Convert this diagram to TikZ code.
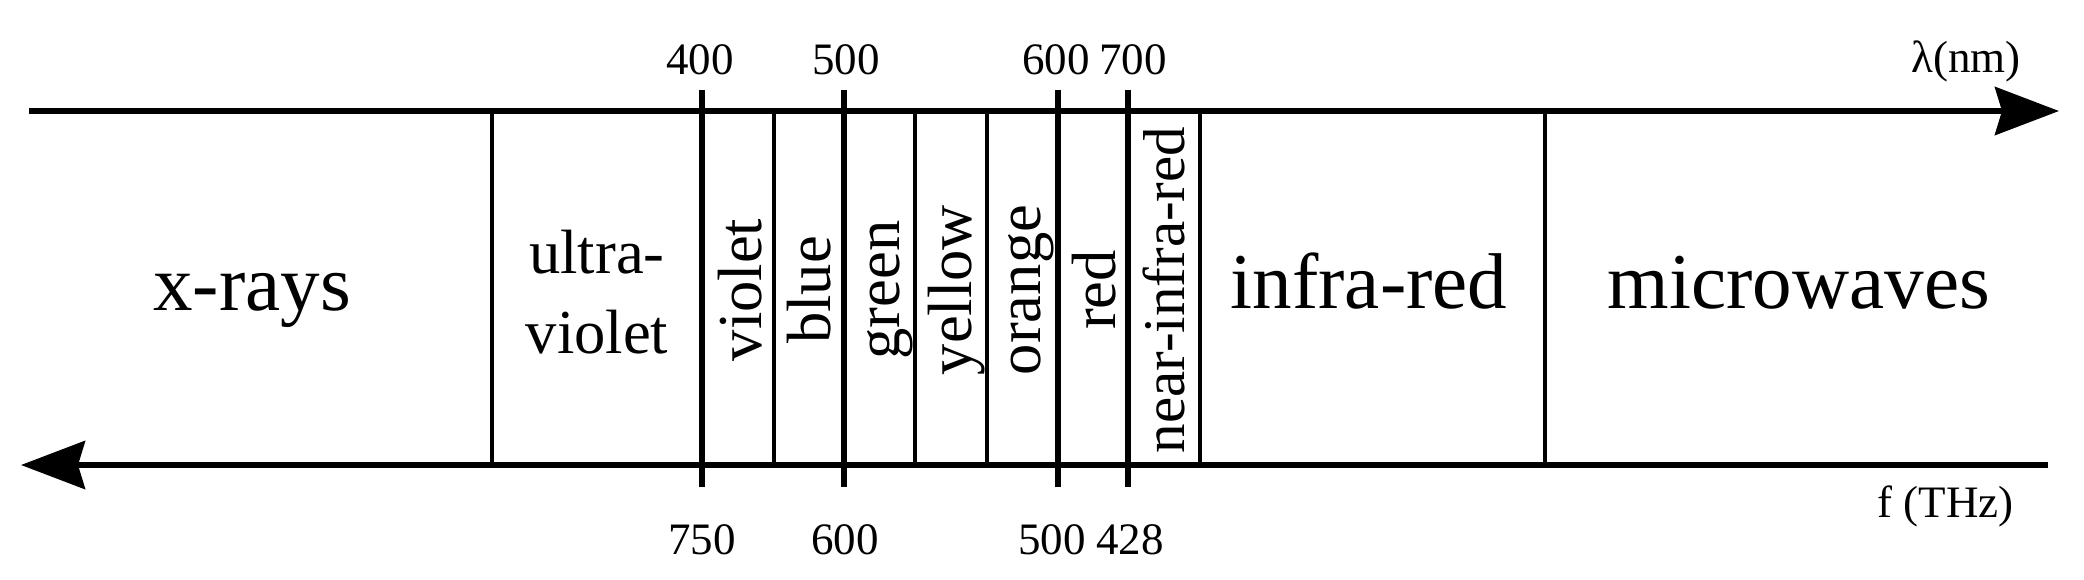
\documentclass[tikz,border=0pt]{standalone}
\usepackage{fontspec}
\setmainfont{Liberation Serif}
\usetikzlibrary{arrows.meta,positioning}

\begin{document}
\begin{tikzpicture}[
		axis/.style={line width=1.65pt},
		band/.style={line width=1.35pt},
		tick/.style={line width=1.7pt},
		tip/.style={-{Stealth[length=6.4mm,width=4.8mm,inset=0.7mm]}},
		big/.style={font=\fontsize{22.5}{27}\selectfont, anchor=base},
		mid/.style={font=\fontsize{17.8}{22.6}\selectfont, align=center},
		col/.style={font=\fontsize{17.8}{21}\selectfont, rotate=90, anchor=base},
		num/.style={font=\fontsize{12.8}{15}\selectfont, anchor=base}
	]
	\useasboundingbox (0,0) rectangle (20.84,5.79);
	\coordinate (lamstart) at (0.29,4.68);
	\coordinate (lamend) at (20.59,4.68);
	\coordinate (freqstart) at (20.48,1.14);
	\coordinate (freqend) at (0.21,1.14);
	\draw[axis, tip] (lamstart)--(lamend);
	\draw[axis, tip] (freqstart)--(freqend);
	\draw[band] (4.92,1.14)--(4.92,4.68);
	\draw[tick] (7.02,0.92)--(7.02,4.89);
	\draw[band] (7.74,1.14)--(7.74,4.68);
	\draw[tick] (8.44,0.92)--(8.44,4.89);
	\draw[band] (9.15,1.14)--(9.15,4.68);
	\draw[band] (9.87,1.14)--(9.87,4.68);
	\draw[tick] (10.58,0.92)--(10.58,4.89);
	\draw[tick] (11.28,0.92)--(11.28,4.89);
	\draw[band] (12.00,1.14)--(12.00,4.68);
	\draw[band] (15.45,1.14)--(15.45,4.68);
	\node[num] (l400) at (7.00,5.05) {400};
	\node[num] (l500) at (8.46,5.05) {500};
	\node[num] (l600) at (10.56,5.05) {600};
	\node[num] (l700) at (11.33,5.05) {700};
	\node[num, anchor=base east] (lamunit) at (20.33,5.07) {λ(nm)};
	\node[num] (f750) at (7.02,0.25) {750};
	\node[num] (f600) at (8.45,0.25) {600};
	\node[num] (f500) at (10.52,0.25) {500};
	\node[num] (f428) at (11.30,0.25) {428};
	\node[num, anchor=base east] (frequnit) at (20.26,0.62) {f (THz)};
	\node[big] (xrays) at (2.52,2.69) {x-rays};
	\node[mid] (uv) at (5.97,2.87) {ultra-\\violet};
	\node[col] (violet) at (7.61,2.89) {violet};
	\node[col] (blue) at (8.30,2.89) {blue};
	\node[col] (green) at (8.99,2.89) {green};
	\node[col] (yellow) at (9.71,2.89) {yellow};
	\node[col] (orange) at (10.40,2.89) {orange};
	\node[col] (red) at (11.15,2.89) {red};
	\node[col, font=\fontsize{16.8}{20}\selectfont] (nir) at (11.84,2.89) {near-infra-red};
	\node[big] (ir) at (13.69,2.71) {infra-red};
	\node[big] (micro) at (17.99,2.71) {microwaves};
\end{tikzpicture}
\end{document}
